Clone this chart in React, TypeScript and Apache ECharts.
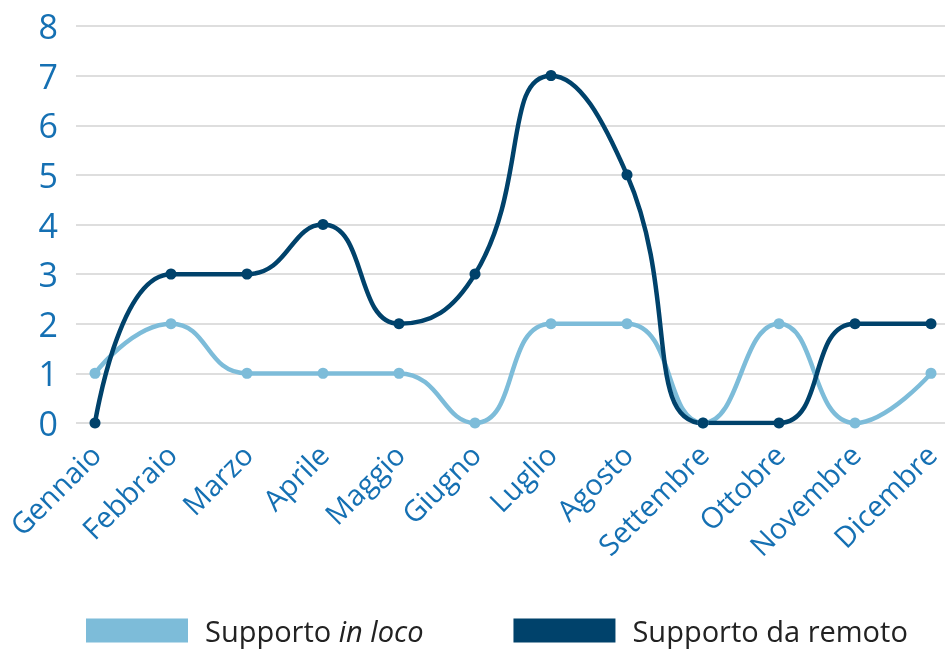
import React, { useEffect, useRef } from "react";
import * as echarts from "echarts";

const months = ["Gennaio","Febbraio","Marzo","Aprile","Maggio","Giugno","Luglio","Agosto","Settembre","Ottobre","Novembre","Dicembre"];
const inLoco = [1,2,1,1,1,0,2,2,0,2,0,1];
const remoto = [0,3,3,4,2,3,7,5,0,0,2,2];
const seriesNames = ["Supporto in loco", "Supporto da remoto"];
const yTicks = [0,1,2,3,4,5,6,7,8];

const LIGHT = "#7dbcd9";
const DARK = "#00426b";
const LABEL = "#1570b3";
const FONT = "Open Sans";

export default function App() {
  const ref = useRef<HTMLDivElement>(null);
  useEffect(() => {
    if (!ref.current) return;
    const chart = echarts.init(ref.current, null, { renderer: "svg" });
    const toPairs = (arr: number[]) => arr.map((v, i) => [i, v]);
    chart.setOption({
      animation: false,
      grid: { left: 76, right: 0, top: 26, bottom: 227, containLabel: false },
      legend: {
        left: 81,
        bottom: 0,
        itemWidth: 102,
        itemHeight: 24,
        itemGap: 90,
        icon: "rect",
        data: seriesNames,
        formatter: (name: string) => name === "Supporto in loco" ? "Supporto {i|in loco}" : name,
        textStyle: {
          fontFamily: FONT, fontSize: 29, color: "#222", padding: [0, 0, 0, 12],
          rich: { i: { fontFamily: FONT, fontSize: 29, color: "#222", fontStyle: "italic" } },
        },
      },
      xAxis: {
        type: "value",
        min: -0.25,
        max: 11 + 14 / 76,
        axisLine: { show: false },
        axisTick: { show: false },
        splitLine: { show: false },
        axisLabel: {
          customValues: months.map((_, i) => i),
          formatter: (v: number) => months[Math.round(v)] ?? "",
          rotate: 45,
          margin: 26,
          color: LABEL,
          fontFamily: FONT,
          fontSize: 29,
        },
      },
      yAxis: {
        type: "value",
        min: yTicks[0],
        max: yTicks[yTicks.length - 1],
        interval: 1,
        axisLine: { show: false },
        axisTick: { show: false },
        splitLine: { lineStyle: { color: "#d3d3d3", width: 1.5 } },
        axisLabel: { color: LABEL, fontFamily: FONT, fontSize: 34, margin: 18 },
      },
      series: [
        {
          name: seriesNames[0], type: "line", data: toPairs(inLoco), smooth: 0.5,
          symbol: "circle", symbolSize: 11,
          lineStyle: { color: LIGHT, width: 4.5 }, itemStyle: { color: LIGHT },
        },
        {
          name: seriesNames[1], type: "line", data: toPairs(remoto), smooth: 0.5,
          symbol: "circle", symbolSize: 11,
          lineStyle: { color: DARK, width: 4.5 }, itemStyle: { color: DARK },
        },
      ],
    });
    return () => chart.dispose();
  }, []);
  return <div ref={ref} style={{ position: "fixed", left: 0, top: 0, width: 945, height: 650 }} />;
}
